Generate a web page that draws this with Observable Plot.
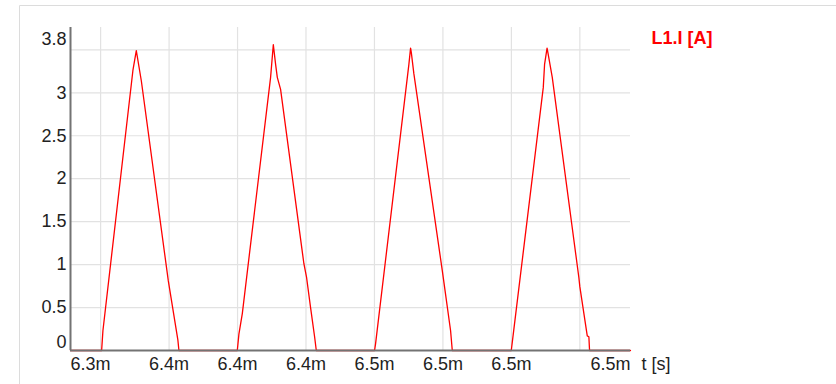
<!DOCTYPE html>
<html>
<head>
<meta charset="utf-8">
<script src="https://cdn.jsdelivr.net/npm/d3@7"></script>
<script src="https://cdn.jsdelivr.net/npm/@observablehq/plot@0.6"></script>
<style>
  html, body { margin: 0; padding: 0; background: #fff; }
  #chart svg { display: block; font-family: "Liberation Sans", Arial, sans-serif; }
</style>
</head>
<body>
<div id="chart"></div>
<script>
// Inductor current L1.I over time (time in milliseconds)
const seriesName = "L1.I [A]";
const xAxisLabel = "t [s]";

const timeMs = [
  6.339,
  6.35037, 6.35084, 6.36179, 6.36303, 6.36486, 6.37472, 6.37822, 6.37859,
  6.39991, 6.40050, 6.40174, 6.41207, 6.41306, 6.41390, 6.41452, 6.41572, 6.42423, 6.42521, 6.42667, 6.42814, 6.42876,
  6.45004, 6.45041, 6.46257, 6.46319, 6.46345, 6.46440, 6.47477, 6.47780, 6.47842,
  6.49996, 6.50069, 6.51164, 6.51212, 6.51303, 6.51332, 6.51493, 6.52464, 6.52501, 6.52771, 6.52830, 6.52855,
  6.5435
];
const currentA = [
  0,
  0, 0.23, 3.26, 3.49, 3.14, 0.81, 0.12, 0,
  0, 0.19, 0.43, 3.18, 3.56, 3.33, 3.18, 3.04, 1.01, 0.85, 0.50, 0.16, 0,
  0, 0.08, 3.33, 3.52, 3.47, 3.22, 0.93, 0.23, 0,
  0, 0.19, 3.06, 3.33, 3.52, 3.47, 3.18, 0.85, 0.74, 0.17, 0.16, 0,
  0
];

const xDomain = [6.339, 6.5435];
const xTicks = [6.35, 6.375, 6.4, 6.425, 6.45, 6.475, 6.5, 6.525];
const xTickLabels = ["", "6.4m", "6.4m", "6.4m", "6.5m", "6.5m", "6.5m", ""];
const xEndLabels = ["6.3m", "6.5m"];

const yDomain = [0, 3.76];
const yGrid = [0.5, 1, 1.5, 2, 2.5, 3, 3.5];
const yTicks = [0.5, 1, 1.5, 2, 2.5, 3];
const yTickLabels = ["0.5", "1", "1.5", "2", "2.5", "3"];
const yEndLabels = ["0", "3.8"];

const data = timeMs.map((t, i) => ({t, v: currentA[i]}));

const font = {fontSize: 18, fill: "#222"};
const gridColor = "#e2e2e2";
const axisColor = "#737373";

const chart = Plot.plot({
  width: 836,
  height: 384,
  marginLeft: 70,
  marginRight: 206,
  marginTop: 27,
  marginBottom: 34,
  x: {domain: xDomain, axis: null},
  y: {domain: yDomain, axis: null},
  marks: [
    Plot.ruleY(yGrid, {y: d => d, stroke: gridColor, strokeWidth: 1.2}),
    Plot.ruleX(xTicks, {x: d => d, stroke: gridColor, strokeWidth: 1.2}),
    Plot.line(data, {x: "t", y: "v", stroke: "#ff0000", strokeWidth: 1.3}),
    Plot.ruleX([xDomain[0]], {x: d => d, stroke: axisColor, strokeWidth: 2}),
    Plot.ruleY([yDomain[0]], {y: d => d, stroke: axisColor, strokeWidth: 2}),
    // y tick labels
    Plot.text(yTicks, {y: d => d, text: (d, i) => yTickLabels[i], frameAnchor: "left", textAnchor: "end", dx: -4, ...font}),
    Plot.text([yDomain[0]], {y: d => d, text: () => yEndLabels[0], frameAnchor: "left", textAnchor: "end", dx: -4, dy: -8, ...font}),
    Plot.text([yDomain[1]], {y: d => d, text: () => yEndLabels[1], frameAnchor: "left", textAnchor: "end", dx: -4, dy: 12, ...font}),
    // x tick labels
    Plot.text(xTicks.filter((d, i) => xTickLabels[i]), {
      x: d => d, text: d => xTickLabels[xTicks.indexOf(d)],
      frameAnchor: "bottom", lineAnchor: "top", dy: 7, ...font
    }),
    Plot.text([xDomain[0]], {x: d => d, text: () => xEndLabels[0], frameAnchor: "bottom", lineAnchor: "top", textAnchor: "start", dy: 7, ...font}),
    Plot.text([xDomain[1]], {x: d => d, text: () => xEndLabels[1], frameAnchor: "bottom", lineAnchor: "top", textAnchor: "end", dy: 7, ...font}),
    // axis title
    Plot.text([xDomain[1]], {x: d => d, text: () => xAxisLabel, frameAnchor: "bottom", lineAnchor: "top", textAnchor: "start", dx: 11, dy: 7, ...font}),
    // series legend
    Plot.text([xDomain[1]], {
      x: d => d, y: () => yDomain[1], text: () => seriesName,
      lineAnchor: "top", textAnchor: "start", dx: 21, dy: 4,
      fontSize: 18, fontWeight: "bold", fill: "#ff0000"
    })
  ]
});

// panel border
d3.select(chart).insert("path", ":first-child")
  .attr("d", "M19.5,384V5.5H836")
  .attr("fill", "none")
  .attr("stroke", "#dcdcdc")
  .attr("stroke-width", 1);

document.getElementById("chart").appendChild(chart);
</script>
</body>
</html>
